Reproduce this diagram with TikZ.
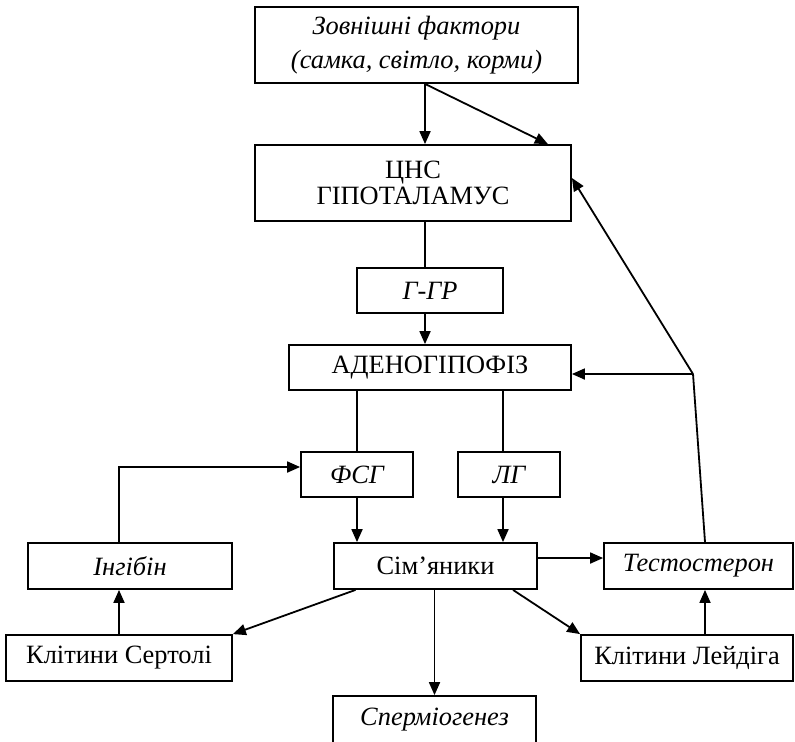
\documentclass[tikz,border=0pt]{standalone}
\usepackage{fontspec}
\setmainfont{Liberation Serif}
\usetikzlibrary{arrows.meta}
\begin{document}
\begin{tikzpicture}[x=0.5pt, y=-0.5pt, line width=0.9pt, >={Triangle[length=6.5pt,width=5.5pt]},
	font=\fontsize{13.2}{17}\selectfont,
	box/.style={draw, inner sep=0pt, align=center, minimum height=23pt},
	ibox/.style={box, font=\fontsize{13.2}{17}\selectfont\itshape}]
	\useasboundingbox (0,0) rectangle (795,741);
	\node[ibox, minimum width=161.5pt, minimum height=38pt] (zovn) at (416.5,45) {Зовнішні фактори\\(самка, світло, корми)};
	\node[box, minimum width=158pt, minimum height=38pt] (cns) at (413,183) {ЦНС\\[-4pt]ГІПОТАЛАМУС};
	\node[ibox, minimum width=73pt, minimum height=22.5pt] (ggr) at (430,290.5) {Г-ГР};
	\node[box, minimum width=141pt, minimum height=22.5pt] (aden) at (430,367.5) {АДЕНОГІПОФІЗ};
	\node[ibox, minimum width=56pt, minimum height=22.5pt] (fsg) at (357,474.5) {ФСГ};
	\node[ibox, minimum width=51pt, minimum height=22.5pt] (lg) at (509,474.5) {ЛГ};
	\node[ibox, minimum width=102pt] (ingib) at (130,566) {Інгібін};
	\node[box, minimum width=101.5pt] (sim) at (435.5,566) {Сім’яники};
	\node[ibox, minimum width=94.5pt] (test) at (698.5,566) {Тестостерон};
	\node[box, minimum width=113pt] (sert) at (119,658) {Клітини Сертолі};
	\node[box, minimum width=106pt] (leyd) at (687,658) {Клітини Лейдіга};
	\node[ibox, minimum width=101.5pt, minimum height=24pt] (sperm) at (434.5,720) {Спермiогенез};
	\coordinate (lgin) at ([xshift=-3pt]lg.north);
	\coordinate (lgout) at ([xshift=-3pt]lg.south);
	\coordinate (leydout) at ([xshift=9pt]leyd.north);
	\coordinate (fb) at (693,374);
	\draw[->] ([xshift=4.25pt]zovn.south) -- ([xshift=6pt]cns.north);
	\draw[->] ([xshift=4.25pt]zovn.south) -- ([xshift=-12pt]cns.north east);
	\draw ([xshift=6pt]cns.south) -- ([xshift=-2.5pt]ggr.north);
	\draw[->] ([xshift=-2.5pt]ggr.south) -- ([xshift=-2.5pt]aden.north);
	\draw (aden.south -| fsg.north) -- (fsg.north);
	\draw (lgin |- aden.south) -- (lgin);
	\draw[->] (fsg.south) -- (fsg.south |- sim.north);
	\draw[->] (lgout) -- (lgout |- sim.north);
	\draw[->] (sert.north) -- (sert.north |- ingib.south);
	\draw[->] (sert.north |- ingib.north) |- ([yshift=3.75pt]fsg.west);
	\draw[->] ([xshift=-40pt]sim.south) -- (sert.north east);
	\draw[->] (sperm.north |- sim.south) -- (sperm.north);
	\draw[->] ([xshift=38.75pt]sim.south) -- (leyd.north west);
	\draw[->] ([yshift=4pt]sim.east) -- ([yshift=4pt]test.west);
	\draw[->] (leydout) -- (leydout |- test.south);
	\draw ([xshift=3.25pt]test.north) -- (fb);
	\draw[->] (fb) -- (fb -| aden.east);
	\draw[->] (fb) -- ([yshift=2.5pt]cns.east);
\end{tikzpicture}
\end{document}
